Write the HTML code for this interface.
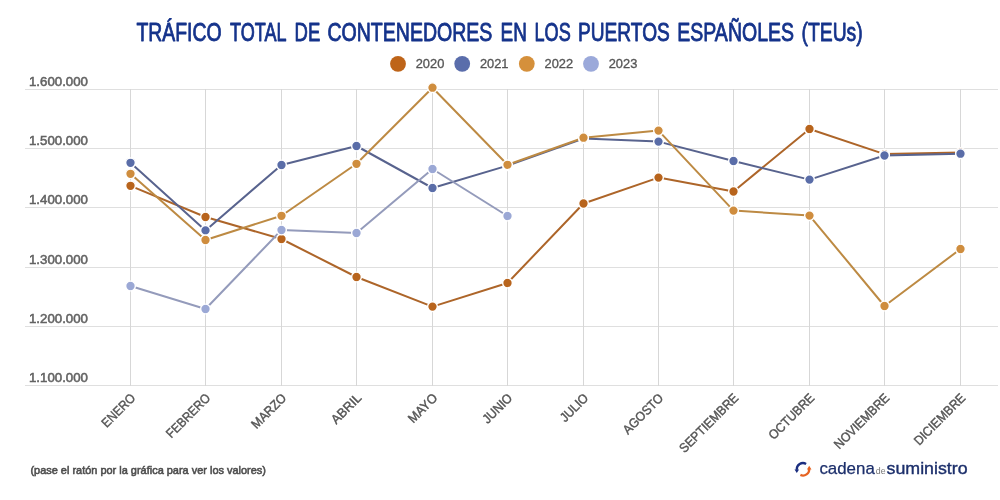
<!DOCTYPE html>
<html lang="es">
<head>
<meta charset="utf-8">
<title>Tráfico total de contenedores en los puertos españoles (TEUs)</title>
<style>
html,body{margin:0;padding:0;background:#fff;}
body{width:1000px;height:500px;overflow:hidden;font-family:"Liberation Sans",sans-serif;}
svg{display:block;}
text{font-family:"Liberation Sans",sans-serif;}
.ax{font-size:12.2px;fill:#626262;stroke:#626262;stroke-width:.5px;}
.lg{font-size:12px;fill:#555;stroke:#555;stroke-width:.3px;}
.xl{font-size:13px;fill:#555;stroke:#555;stroke-width:.42px;}
.grid line{stroke-width:1;shape-rendering:crispEdges;}
.gh line{stroke:#dfdfdf;}
.gv line{stroke:#d7d7d7;}
</style>
</head>
<body>
<svg width="1000" height="500" viewBox="0 0 1000 500" style="will-change:transform">
<rect width="1000" height="500" fill="#fff"/>
<g font-size="25.6" fill="#15338b" stroke="#15338b" stroke-width=".85" stroke-linejoin="round">
<text x="136.4" y="41.0" textLength="85.1" lengthAdjust="spacingAndGlyphs">TRÁFICO</text>
<text x="230.1" y="41.0" textLength="56.5" lengthAdjust="spacingAndGlyphs">TOTAL</text>
<text x="294.6" y="41.0" textLength="25.7" lengthAdjust="spacingAndGlyphs">DE</text>
<text x="327.4" y="41.0" textLength="165.0" lengthAdjust="spacingAndGlyphs">CONTENEDORES</text>
<text x="500.6" y="41.0" textLength="26.3" lengthAdjust="spacingAndGlyphs">EN</text>
<text x="534.5" y="41.0" textLength="36.2" lengthAdjust="spacingAndGlyphs">LOS</text>
<text x="578.0" y="41.0" textLength="91.8" lengthAdjust="spacingAndGlyphs">PUERTOS</text>
<text x="677.3" y="41.0" textLength="116.7" lengthAdjust="spacingAndGlyphs">ESPAÑOLES</text>
<text x="801.5" y="41.0" textLength="61.2" lengthAdjust="spacingAndGlyphs">(TEUs)</text>
</g>
<circle cx="398" cy="63.8" r="7.9" fill="#be6419"/><text class="lg" x="415.7" y="67.8" textLength="28.6" lengthAdjust="spacingAndGlyphs">2020</text>
<circle cx="462.2" cy="63.8" r="7.9" fill="#5a6dab"/><text class="lg" x="479.9" y="67.8" textLength="28.6" lengthAdjust="spacingAndGlyphs">2021</text>
<circle cx="526.8" cy="63.8" r="7.9" fill="#d5903b"/><text class="lg" x="544.5" y="67.8" textLength="28.6" lengthAdjust="spacingAndGlyphs">2022</text>
<circle cx="591" cy="63.8" r="7.9" fill="#9ba9da"/><text class="lg" x="608.7" y="67.8" textLength="28.6" lengthAdjust="spacingAndGlyphs">2023</text>
<g class="grid gh">
<line x1="25" x2="998" y1="89.5" y2="89.5"/>
<line x1="25" x2="998" y1="148.5" y2="148.5"/>
<line x1="25" x2="998" y1="207.5" y2="207.5"/>
<line x1="25" x2="998" y1="267.5" y2="267.5"/>
<line x1="25" x2="998" y1="326.5" y2="326.5"/>
<line x1="25" x2="998" y1="385.5" y2="385.5"/>
</g>
<g class="grid gv">
<line x1="130.5" x2="130.5" y1="89.0" y2="386.0"/>
<line x1="205.5" x2="205.5" y1="89.0" y2="386.0"/>
<line x1="281.5" x2="281.5" y1="89.0" y2="386.0"/>
<line x1="356.5" x2="356.5" y1="89.0" y2="386.0"/>
<line x1="432.5" x2="432.5" y1="89.0" y2="386.0"/>
<line x1="507.5" x2="507.5" y1="89.0" y2="386.0"/>
<line x1="583.5" x2="583.5" y1="89.0" y2="386.0"/>
<line x1="658.5" x2="658.5" y1="89.0" y2="386.0"/>
<line x1="733.5" x2="733.5" y1="89.0" y2="386.0"/>
<line x1="809.5" x2="809.5" y1="89.0" y2="386.0"/>
<line x1="884.5" x2="884.5" y1="89.0" y2="386.0"/>
<line x1="960.5" x2="960.5" y1="89.0" y2="386.0"/>
</g>
<text class="ax" x="29" y="86.0" textLength="59" lengthAdjust="spacingAndGlyphs">1.600.000</text>
<text class="ax" x="29" y="145.0" textLength="59" lengthAdjust="spacingAndGlyphs">1.500.000</text>
<text class="ax" x="29" y="204.0" textLength="59" lengthAdjust="spacingAndGlyphs">1.400.000</text>
<text class="ax" x="29" y="264.0" textLength="59" lengthAdjust="spacingAndGlyphs">1.300.000</text>
<text class="ax" x="29" y="323.0" textLength="59" lengthAdjust="spacingAndGlyphs">1.200.000</text>
<text class="ax" x="29" y="382.0" textLength="59" lengthAdjust="spacingAndGlyphs">1.100.000</text>
<text class="xl" text-anchor="end" transform="translate(133.1,395.7) rotate(-45)" dy="4.4" textLength="41.6" lengthAdjust="spacingAndGlyphs">ENERO</text>
<text class="xl" text-anchor="end" transform="translate(208.1,395.7) rotate(-45)" dy="4.4" textLength="56.4" lengthAdjust="spacingAndGlyphs">FEBRERO</text>
<text class="xl" text-anchor="end" transform="translate(284.1,395.7) rotate(-45)" dy="4.4" textLength="43.3" lengthAdjust="spacingAndGlyphs">MARZO</text>
<text class="xl" text-anchor="end" transform="translate(359.1,395.7) rotate(-45)" dy="4.4" textLength="36.6" lengthAdjust="spacingAndGlyphs">ABRIL</text>
<text class="xl" text-anchor="end" transform="translate(435.1,395.7) rotate(-45)" dy="4.4" textLength="35.4" lengthAdjust="spacingAndGlyphs">MAYO</text>
<text class="xl" text-anchor="end" transform="translate(510.1,395.7) rotate(-45)" dy="4.4" textLength="36.0" lengthAdjust="spacingAndGlyphs">JUNIO</text>
<text class="xl" text-anchor="end" transform="translate(586.1,395.7) rotate(-45)" dy="4.4" textLength="34.0" lengthAdjust="spacingAndGlyphs">JULIO</text>
<text class="xl" text-anchor="end" transform="translate(661.1,395.7) rotate(-45)" dy="4.4" textLength="51.1" lengthAdjust="spacingAndGlyphs">AGOSTO</text>
<text class="xl" text-anchor="end" transform="translate(736.1,395.7) rotate(-45)" dy="4.4" textLength="77.3" lengthAdjust="spacingAndGlyphs">SEPTIEMBRE</text>
<text class="xl" text-anchor="end" transform="translate(812.1,395.7) rotate(-45)" dy="4.4" textLength="58.6" lengthAdjust="spacingAndGlyphs">OCTUBRE</text>
<text class="xl" text-anchor="end" transform="translate(887.1,395.7) rotate(-45)" dy="4.4" textLength="72.0" lengthAdjust="spacingAndGlyphs">NOVIEMBRE</text>
<text class="xl" text-anchor="end" transform="translate(963.1,395.7) rotate(-45)" dy="4.4" textLength="66.6" lengthAdjust="spacingAndGlyphs">DICIEMBRE</text>
<polyline points="130.5,185.8 205.5,217 281.5,239 356.5,277 432.5,306.6 507.5,283 583.5,203.5 658.5,177.6 733.5,191.5 809.5,129 884.5,154.1 960.5,152.6" fill="none" stroke="#ad6529" stroke-width="2" stroke-linejoin="round"/>
<polyline points="130.5,162.8 205.5,230.4 281.5,165 356.5,146 432.5,188 507.5,165.6 583.5,138.5 658.5,141.6 733.5,161 809.5,179.6 884.5,155.5 960.5,153.7" fill="none" stroke="#58638e" stroke-width="2" stroke-linejoin="round"/>
<polyline points="130.5,173.8 205.5,240 281.5,215.8 356.5,163.8 432.5,87.7 507.5,164.8 583.5,137.7 658.5,130.6 733.5,210.6 809.5,215.6 884.5,306 960.5,249" fill="none" stroke="#bd8a43" stroke-width="2" stroke-linejoin="round"/>
<polyline points="130.5,286 205.5,309 281.5,230 356.5,233 432.5,169 507.5,216" fill="none" stroke="#949bbb" stroke-width="2" stroke-linejoin="round"/>
<circle cx="130.5" cy="185.8" r="4.85" fill="#b8641c" stroke="#fff" stroke-width="1.4"/>
<circle cx="205.5" cy="217" r="4.85" fill="#b8641c" stroke="#fff" stroke-width="1.4"/>
<circle cx="281.5" cy="239" r="4.85" fill="#b8641c" stroke="#fff" stroke-width="1.4"/>
<circle cx="356.5" cy="277" r="4.85" fill="#b8641c" stroke="#fff" stroke-width="1.4"/>
<circle cx="432.5" cy="306.6" r="4.85" fill="#b8641c" stroke="#fff" stroke-width="1.4"/>
<circle cx="507.5" cy="283" r="4.85" fill="#b8641c" stroke="#fff" stroke-width="1.4"/>
<circle cx="583.5" cy="203.5" r="4.85" fill="#b8641c" stroke="#fff" stroke-width="1.4"/>
<circle cx="658.5" cy="177.6" r="4.85" fill="#b8641c" stroke="#fff" stroke-width="1.4"/>
<circle cx="733.5" cy="191.5" r="4.85" fill="#b8641c" stroke="#fff" stroke-width="1.4"/>
<circle cx="809.5" cy="129" r="4.85" fill="#b8641c" stroke="#fff" stroke-width="1.4"/>
<circle cx="884.5" cy="154.1" r="4.85" fill="#b8641c" stroke="#fff" stroke-width="1.4"/>
<circle cx="960.5" cy="152.6" r="4.85" fill="#b8641c" stroke="#fff" stroke-width="1.4"/>
<circle cx="130.5" cy="162.8" r="4.85" fill="#5a6da8" stroke="#fff" stroke-width="1.4"/>
<circle cx="205.5" cy="230.4" r="4.85" fill="#5a6da8" stroke="#fff" stroke-width="1.4"/>
<circle cx="281.5" cy="165" r="4.85" fill="#5a6da8" stroke="#fff" stroke-width="1.4"/>
<circle cx="356.5" cy="146" r="4.85" fill="#5a6da8" stroke="#fff" stroke-width="1.4"/>
<circle cx="432.5" cy="188" r="4.85" fill="#5a6da8" stroke="#fff" stroke-width="1.4"/>
<circle cx="507.5" cy="165.6" r="4.85" fill="#5a6da8" stroke="#fff" stroke-width="1.4"/>
<circle cx="583.5" cy="138.5" r="4.85" fill="#5a6da8" stroke="#fff" stroke-width="1.4"/>
<circle cx="658.5" cy="141.6" r="4.85" fill="#5a6da8" stroke="#fff" stroke-width="1.4"/>
<circle cx="733.5" cy="161" r="4.85" fill="#5a6da8" stroke="#fff" stroke-width="1.4"/>
<circle cx="809.5" cy="179.6" r="4.85" fill="#5a6da8" stroke="#fff" stroke-width="1.4"/>
<circle cx="884.5" cy="155.5" r="4.85" fill="#5a6da8" stroke="#fff" stroke-width="1.4"/>
<circle cx="960.5" cy="153.7" r="4.85" fill="#5a6da8" stroke="#fff" stroke-width="1.4"/>
<circle cx="130.5" cy="173.8" r="4.85" fill="#cf8d3e" stroke="#fff" stroke-width="1.4"/>
<circle cx="205.5" cy="240" r="4.85" fill="#cf8d3e" stroke="#fff" stroke-width="1.4"/>
<circle cx="281.5" cy="215.8" r="4.85" fill="#cf8d3e" stroke="#fff" stroke-width="1.4"/>
<circle cx="356.5" cy="163.8" r="4.85" fill="#cf8d3e" stroke="#fff" stroke-width="1.4"/>
<circle cx="432.5" cy="87.7" r="4.85" fill="#cf8d3e" stroke="#fff" stroke-width="1.4"/>
<circle cx="507.5" cy="164.8" r="4.85" fill="#cf8d3e" stroke="#fff" stroke-width="1.4"/>
<circle cx="583.5" cy="137.7" r="4.85" fill="#cf8d3e" stroke="#fff" stroke-width="1.4"/>
<circle cx="658.5" cy="130.6" r="4.85" fill="#cf8d3e" stroke="#fff" stroke-width="1.4"/>
<circle cx="733.5" cy="210.6" r="4.85" fill="#cf8d3e" stroke="#fff" stroke-width="1.4"/>
<circle cx="809.5" cy="215.6" r="4.85" fill="#cf8d3e" stroke="#fff" stroke-width="1.4"/>
<circle cx="884.5" cy="306" r="4.85" fill="#cf8d3e" stroke="#fff" stroke-width="1.4"/>
<circle cx="960.5" cy="249" r="4.85" fill="#cf8d3e" stroke="#fff" stroke-width="1.4"/>
<circle cx="130.5" cy="286" r="4.85" fill="#9ba8d5" stroke="#fff" stroke-width="1.4"/>
<circle cx="205.5" cy="309" r="4.85" fill="#9ba8d5" stroke="#fff" stroke-width="1.4"/>
<circle cx="281.5" cy="230" r="4.85" fill="#9ba8d5" stroke="#fff" stroke-width="1.4"/>
<circle cx="356.5" cy="233" r="4.85" fill="#9ba8d5" stroke="#fff" stroke-width="1.4"/>
<circle cx="432.5" cy="169" r="4.85" fill="#9ba8d5" stroke="#fff" stroke-width="1.4"/>
<circle cx="507.5" cy="216" r="4.85" fill="#9ba8d5" stroke="#fff" stroke-width="1.4"/>
<text x="30.4" y="473.7" font-size="11.5" fill="#4e4e4e" stroke="#4e4e4e" stroke-width=".6" textLength="235.6" lengthAdjust="spacingAndGlyphs">(pase el ratón por la gráfica para ver los valores)</text>
<g fill="none" stroke-width="2.3">
<path d="M806.1 463.9 A6.2 6.2 0 0 0 796.8 469.8" stroke="#1b2e80"/>
<path d="M800.4 474.9 A6.2 6.2 0 0 0 809.2 468.8" stroke="#e66322"/>
</g>
<path d="M794.5 469.4 L799.1 469.4 L796.8 473 Z" fill="#1b2e80"/>
<path d="M806.9 469.4 L811.5 469.4 L809.2 465.8 Z" fill="#e66322"/>
<text x="819.4" y="474" font-size="17" fill="#1c2f6b" stroke="#1c2f6b" stroke-width=".25" textLength="55.4" lengthAdjust="spacingAndGlyphs">cadena</text>
<text x="875.8" y="474" font-size="8.5" fill="#777" textLength="9.8" lengthAdjust="spacingAndGlyphs">de</text>
<text x="886.6" y="474" font-size="17" fill="#1c2f6b" stroke="#1c2f6b" stroke-width=".38" textLength="81.0" lengthAdjust="spacingAndGlyphs">suministro</text>
</svg>
</body>
</html>
